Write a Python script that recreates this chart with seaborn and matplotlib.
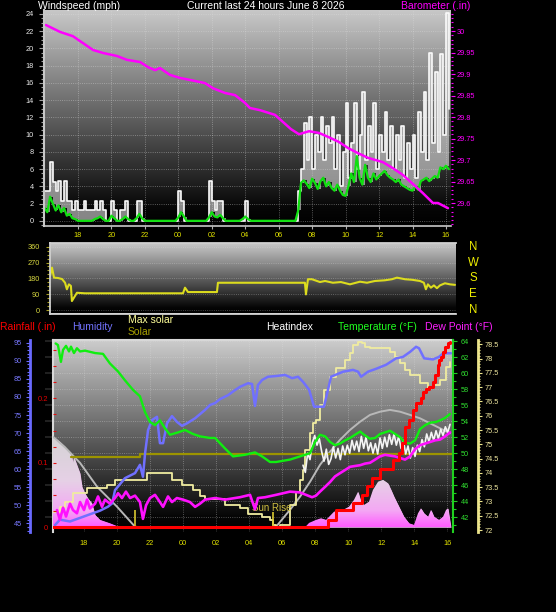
import numpy as np
import seaborn as sns
import matplotlib.pyplot as plt
from matplotlib.colors import LinearSegmentedColormap
from matplotlib.path import Path
from matplotlib.ticker import MultipleLocator, FixedLocator, FuncFormatter

W, H = 556, 612

# times are hours relative to midnight of June 8 (-8 = 16:00 the day before)
hour_ticks = [-6, -4, -2, 0, 2, 4, 6, 8, 10, 12, 14, 16]
hour_labels = ['18', '20', '22', '00', '02', '04', '06', '08', '10', '12', '14', '16']

# windspeed, 10 minute samples starting 16:00
wind_start = -8.0
gust = [3.5, 3.5, 6.8, 4.5, 3.5, 4.6, 2.3, 4.6, 2.3, 2.3,
        1.2, 2.3, 1.2, 1.2, 2.3, 1.2, 1.2, 1.2, 2.3, 1.2,
        2.3, 1.2, 0, 0, 2.3, 1.2, 0, 1.2, 1.2, 2.3,
        0, 0, 0, 2.3, 2.3, 0, 0, 0, 0, 0,
        0, 0, 0, 0, 0, 0, 0, 0, 3.5, 2.3,
        0, 0, 0, 0, 0, 0, 0, 0, 0, 4.6,
        2.3, 1.2, 2.3, 2.3, 0, 0, 0, 0, 0, 0,
        0, 0, 2.3, 0, 0, 0, 0, 0, 0, 0,
        0, 0, 0, 0, 0, 0, 0, 0, 0, 0,
        0, 3.5, 6.0, 11.3, 7.0, 12.0, 6.0, 10.0, 8.0, 12.0,
        7.0, 11.0, 9.0, 12.0, 6.0, 10.0, 4.0, 8.0, 13.7, 5.0,
        9.0, 13.7, 6.0, 10.0, 14.9, 7.0, 11.0, 8.0, 13.7, 6.0,
        10.0, 8.0, 12.6, 7.0, 11.0, 6.0, 10.0, 7.0, 11.0, 5.0,
        9.0, 6.0, 10.0, 5.0, 12.6, 8.0, 14.9, 7.0, 19.5, 9.0,
        17.3, 8.0, 19.4, 10.0, 24.1, 13.0]
avg = [1.5, 1.0, 2.8, 2.0, 1.2, 1.8, 1.0, 1.5, 0.6, 0.8,
       0.3, 0.2, 0, 0, 0, 0, 0, 0, 0.2, 0.3,
       0.5, 0.2, 0, 0, 0.6, 0.3, 0, 0, 0.2, 0.5,
       0.2, 0, 0, 0.3, 0.8, 0.3, 0, 0, 0, 0,
       0, 0, 0, 0, 0, 0, 0, 0, 0.4, 1.0,
       0.5, 0, 0, 0, 0, 0, 0, 0, 0, 0.4,
       1.0, 0.5, 0.4, 0.7, 0.3, 0, 0, 0, 0, 0,
       0, 0.2, 0.5, 0.2, 0, 0, 0, 0, 0, 0,
       0, 0, 0, 0, 0, 0, 0, 0, 0, 0,
       0, 1.2, 4.4, 4.7, 4.3, 3.8, 4.9, 4.4, 3.7, 4.6,
       5.0, 4.0, 4.5, 3.8, 3.5, 4.2, 3.5, 3.0, 2.9, 4.0,
       5.5, 4.5, 7.5, 5.0, 4.2, 6.5, 5.0, 4.5, 5.5, 4.8,
       5.2, 5.5, 5.8, 5.3, 5.0, 4.8, 4.5, 4.8, 4.2, 4.0,
       3.8, 3.6, 3.5, 4.0, 3.6, 4.6, 4.8, 5.0, 4.6, 4.9,
       5.2, 5.0, 6.2, 6.0, 6.4, 6.0]

baro_t = [-7.91, -7.07, -6.30, -5.70, -5.10, -4.50, -3.67, -3.07, -2.29, -1.81,
          -1.39, -1.10, -0.50, 0.10, 0.98, 1.59, 2.07, 2.79, 3.39, 3.98,
          4.28, 4.88, 5.78, 6.73, 7.21, 7.81, 8.41, 9.00, 9.60, 10.14,
          10.74, 11.34, 12.23, 12.83, 13.43, 14.03, 14.62, 15.22, 15.52, 16.12]
baro = [30.014, 29.998, 29.988, 29.972, 29.956, 29.949, 29.942, 29.933, 29.928, 29.916,
        29.909, 29.914, 29.898, 29.891, 29.884, 29.879, 29.867, 29.856, 29.851, 29.833,
        29.821, 29.816, 29.805, 29.772, 29.760, 29.767, 29.763, 29.753, 29.742, 29.728,
        29.716, 29.705, 29.695, 29.681, 29.665, 29.644, 29.623, 29.600, 29.600, 29.588]
baro_ticks = [29.6, 29.65, 29.7, 29.75, 29.8, 29.85, 29.9, 29.95, 30.0]

dir_t = [-7.67, -7.55, -7.43, -7.19, -6.95, -6.77, -6.66, -6.54, -6.42, -6.36,
         -6.24, -6.06, -5.58, 0.28, 0.40, 0.58, 2.31, 2.37, 6.50, 7.57,
         7.63, 7.75, 7.99, 8.47, 8.77, 9.24, 9.72, 10.26, 10.86, 11.28,
         11.75, 12.35, 12.77, 13.07, 13.55, 13.97, 14.45, 14.68, 14.80, 14.92,
         15.10, 15.28, 15.46, 15.64, 15.94, 16.24, 16.54]
direction = [193, 241, 184, 182, 176, 155, 118, 146, 137, 51,
             70, 98, 95, 95, 127, 102, 102, 155, 155, 155,
             89, 175, 175, 159, 165, 155, 159, 146, 161, 155,
             165, 169, 175, 184, 175, 172, 165, 155, 118, 146,
             127, 140, 124, 140, 152, 146, 143]
compass = ['N', 'W', 'S', 'E', 'N']
compass_deg = [360, 270, 180, 90, 0]

temp_t = [-7.72, -7.58, -7.40, -7.27, -7.09, -6.91, -6.79, -6.61, -6.43, -6.24,
          -5.94, -5.33, -4.85, -4.43, -3.94, -3.52, -3.03, -2.61, -2.30, -2.00,
          -1.70, -1.40, -1.09, -0.79, -0.30, 0.12, 0.60, 1.03, 1.64, 1.94,
          2.54, 3.03, 3.76, 4.36, 4.79, 5.27, 5.64, 6.48, 7.09, 7.70,
          8.00, 8.30, 8.61, 8.91, 9.21, 9.51, 9.82, 10.12, 10.42, 10.73,
          10.97, 11.33, 11.64, 11.94, 12.24, 12.54, 12.85, 13.15, 13.45, 13.76,
          14.06, 14.36, 14.67, 14.97, 15.33, 15.58, 15.88, 16.18]
temp = [63.7, 63.5, 61.4, 62.9, 63.4, 62.7, 63.3, 62.5, 63.1, 62.7,
        62.8, 62.5, 62.4, 61.2, 60.2, 59.1, 57.9, 57.1, 55.1, 53.9,
        53.5, 54.1, 53.1, 52.3, 52.6, 52.9, 52.4, 52.1, 51.9, 51.9,
        50.6, 49.6, 49.8, 50.1, 49.6, 48.9, 48.9, 49.2, 49.6, 50.0,
        51.4, 52.3, 52.1, 51.4, 51.0, 51.2, 51.6, 51.9, 52.3, 52.7,
        52.3, 51.8, 51.9, 52.4, 52.6, 52.8, 52.4, 52.0, 51.3, 51.2,
        51.6, 53.0, 53.5, 53.8, 53.9, 54.1, 54.4, 54.9]

dew_t = [-7.64, -7.46, -7.27, -7.09, -6.85, -6.67, -6.43, -6.24, -6.00, -5.82,
         -5.64, -5.33, -5.15, -4.91, -4.73, -4.43, -4.12, -3.94, -3.70, -3.46,
         -3.21, -2.91, -2.61, -2.43, -2.24, -2.00, -1.70, -1.40, -1.21, -0.91,
         -0.67, -0.37, 0.00, 0.42, 0.73, 1.03, 1.33, 1.94, 2.54, 3.45,
         4.06, 4.36, 4.54, 4.97, 5.64, 6.48, 7.09, 7.45, 7.82, 8.06,
         8.30, 8.61, 8.91, 9.21, 9.51, 9.82, 10.12, 10.42, 10.73, 11.03,
         11.33, 11.64, 11.94, 12.24, 12.54, 12.85, 13.15, 13.45, 13.76, 14.06,
         14.36, 14.67, 14.97, 15.27, 15.58, 15.88, 16.18]
dew = [42.9, 41.7, 43.2, 42.1, 43.7, 42.9, 42.5, 43.9, 42.9, 44.2,
       43.1, 43.7, 44.6, 43.3, 44.2, 43.7, 44.4, 45.0, 44.4, 45.2,
       44.4, 44.7, 43.9, 41.8, 43.5, 44.4, 44.8, 43.9, 43.3, 44.6,
       43.9, 44.4, 44.2, 43.9, 43.3, 43.7, 44.2, 44.4, 44.2, 44.5,
       44.8, 43.0, 44.4, 44.5, 44.8, 45.2, 45.1, 44.8, 44.5, 44.7,
       45.2, 45.8, 46.4, 47.1, 47.5, 47.9, 48.3, 48.4, 48.5, 48.7,
       48.8, 49.2, 49.6, 49.8, 49.7, 49.6, 49.4, 49.2, 49.6, 50.5,
       51.0, 51.2, 51.4, 51.6, 51.7, 52.1, 52.6]

# heat index from 07:16 to 16:11, evenly spaced samples
heat_span = (7.27, 16.18)
heat = [48.5, 47.6, 50.0, 49.2, 51.3, 52.2, 51.0, 51.8, 50.2, 49.0,
        50.5, 48.6, 49.3, 50.8, 49.4, 50.6, 49.2, 50.9, 49.8, 51.0,
        50.0, 51.6, 50.4, 51.5, 50.2, 52.1, 50.6, 52.0, 50.3, 51.3,
        50.0, 51.2, 49.9, 51.9, 50.6, 52.0, 50.8, 52.3, 51.1, 52.4,
        51.0, 52.1, 50.6, 51.6, 49.9, 50.9, 49.4, 50.7, 49.6, 51.0,
        50.2, 51.7, 50.8, 52.4, 51.4, 52.6, 51.6, 52.8, 51.8, 53.0,
        52.2, 53.3, 52.6, 53.6]

hum_t = [-7.76, -7.46, -6.85, -6.24, -5.64, -5.03, -4.55, -4.30, -4.12, -3.52,
         -2.91, -2.61, -2.43, -2.30, -2.12, -1.88, -1.58, -1.40, -1.21, -0.97,
         -0.67, -0.37, -0.06, 0.24, 0.73, 1.33, 1.64, 1.94, 2.24, 2.73,
         3.15, 3.45, 3.94, 4.18, 4.36, 4.54, 4.79, 5.15, 5.64, 6.18,
         6.61, 6.97, 7.27, 7.64, 7.94, 8.54, 8.97, 9.70, 10.30, 10.61,
         10.79, 11.21, 11.70, 12.30, 12.91, 13.33, 13.76, 14.12, 14.30, 14.61,
         15.15, 15.51, 15.76, 16.24]
hum = [44.5, 46.0, 45.5, 46.5, 47.5, 48.5, 49.6, 50.5, 54.2, 57.5,
       58.9, 61.2, 57.9, 64.4, 70.8, 73.6, 74.5, 67.2, 67.2, 72.7,
       74.7, 73.1, 72.0, 72.7, 74.1, 76.4, 77.8, 78.3, 79.4, 80.5,
       81.9, 82.8, 83.8, 83.6, 77.5, 83.3, 84.7, 85.6, 85.8, 86.1,
       85.2, 85.6, 84.2, 82.0, 77.3, 77.3, 85.6, 87.0, 87.5, 87.0,
       85.6, 87.0, 87.8, 88.9, 90.7, 91.1, 92.5, 93.9, 93.5, 90.7,
       90.4, 91.1, 92.1, 92.1]

rain_t = [-7.88, 8.79, 9.27, 10.30, 10.85, 11.15, 11.45, 11.94, 12.73, 13.09,
          13.27, 13.45, 13.70, 13.94, 14.12, 14.42, 14.54, 14.73, 14.91, 15.15,
          15.27, 15.45, 15.51, 15.64, 15.76, 15.88, 16.06, 16.18]
rain = [0, 0.011, 0.027, 0.038, 0.05, 0.064, 0.076, 0.09, 0.104, 0.115,
        0.13, 0.156, 0.166, 0.182, 0.192, 0.2, 0.21, 0.215, 0.218, 0.226,
        0.236, 0.252, 0.259, 0.264, 0.272, 0.28, 0.286, 0.288]

rad_t = [-7.88, -7.46, -7.15, -6.85, -6.73, -6.67, -6.61, -6.43, -6.24, -6.12,
         -5.94, -5.76, -5.52, -5.33, -5.03, -4.43, -3.82, 7.39, 7.64, 8.06,
         8.36, 8.67, 9.15, 9.70, 10.06, 10.36, 10.61, 10.79, 10.97, 11.27,
         11.51, 11.82, 12.12, 12.42, 12.61, 12.79, 13.09, 13.39, 13.70, 14.00,
         14.24, 14.42, 14.61, 14.85, 15.03, 15.21, 15.51, 15.76, 15.94, 16.06,
         16.24]
rad = [453, 428, 403, 370, 353, 322, 352, 312, 270, 203,
       170, 145, 120, 62, 37, 20, 0, 0, 22, 37,
       45, 37, 78, 87, 103, 137, 178, 128, 112, 128,
       187, 228, 237, 220, 187, 153, 103, 53, 20, 12,
       70, 95, 70, 53, 87, 53, 37, 53, 87, 95,
       0]

curve_t = [-7.88, -7.15, -6.24, -5.21, -4.00, -2.91, -2.60, 5.45, 5.64, 6.48,
           7.09, 7.70, 8.30, 8.91, 9.51, 10.12, 10.73, 11.33, 11.94, 12.54,
           13.15, 13.76, 14.36, 14.97, 15.58, 16.18]
curve = [453, 400, 322, 203, 103, 3, 0, 0, 3, 87,
         153, 228, 312, 378, 437, 487, 528, 562, 578, 587,
         578, 562, 545, 520, 495, 470]

maxsol_t = [-7.88, -7.46, -7.15, -6.67, -5.82, -4.61, -4.12, -2.18, -0.67, -0.06,
            0.60, 1.03, 1.33, 2.54, 3.45, 3.94, 4.79, 5.27, 5.45, 5.64,
            5.88, 6.48, 6.85, 7.09, 7.27, 7.39, 7.70, 7.88, 8.06, 8.30,
            8.54, 8.91, 9.27, 9.82, 10.12, 10.30, 10.61, 10.85, 11.03, 11.33,
            12.54, 12.85, 13.15, 13.45, 13.76, 14.36, 14.85, 15.15, 15.58, 15.94,
            16.18]
maxsol = [78, 103, 128, 170, 195, 212, 237, 270, 237, 212,
          187, 157, 140, 112, 95, 67, 50, 37, 12, 0,
          12, 112, 178, 237, 287, 387, 470, 520, 537, 612,
          687, 753, 795, 837, 870, 912, 928, 923, 903, 895,
          878, 853, 820, 787, 762, 720, 695, 712, 737, 803,
          828]

solar_t = [-6.79, -2.61, 16.36]
solar = [353, 368, 365]

sun_t = [-2.91, 5.45]
sun_h = [87, 78]


def box(l, t, r, b):
    return [l / W, 1 - b / H, (r - l) / W, (b - t) / H]


def backdrop(ax, top):
    cmap = LinearSegmentedColormap.from_list('bg', [(0, '#000000'), (0.08, '#060606'), (1, top)])
    ax.imshow(np.linspace(0, 1, 256).reshape(-1, 1), extent=[0, 1, 0, 1],
              transform=ax.transAxes, origin='lower', aspect='auto', cmap=cmap, zorder=-10)


def hide_spines(ax, keep=()):
    for name, sp in ax.spines.items():
        sp.set_visible(name in keep)


fmt = FuncFormatter(lambda v, p: f'{v:g}')

sns.set_theme(style='ticks')
plt.rcParams['font.family'] = ['Liberation Sans', 'DejaVu Sans']

fig = plt.figure(figsize=(W / 100, H / 100), dpi=100, facecolor='black')

# ---------------- wind + barometer ----------------
ax1 = fig.add_axes(box(44, 10, 451, 226))
backdrop(ax1, '#c8c8c8')
t_wind = wind_start + np.arange(len(gust)) / 6
ax1.fill_between(t_wind, avg, gust, step='post', color='#e0e0e0', alpha=0.6, lw=0)
sns.lineplot(x=t_wind, y=gust, ax=ax1, color='#fafafa', lw=1.2, drawstyle='steps-post', estimator=None)
sns.lineplot(x=t_wind, y=avg, ax=ax1, color='#10e010', lw=1.6, estimator=None)
ax1.set_xlim(-8.03, 16.30)
ax1.set_ylim(-0.6, 24.46)
ax1.xaxis.set_major_locator(FixedLocator(hour_ticks))
ax1.set_xticklabels(hour_labels)
ax1.yaxis.set_major_locator(MultipleLocator(2))
ax1.yaxis.set_minor_locator(MultipleLocator(0.5))
ax1.grid(True, color='#e0e0e0', ls=':', lw=0.6, alpha=0.5)
ax1.tick_params(axis='y', which='both', left=True, colors='#a0a0a0', labelcolor='#e8e8e8',
                labelsize=5.3, length=3.5, width=0.8, pad=4)
ax1.tick_params(axis='y', which='minor', length=2)
ax1.tick_params(axis='x', bottom=True, colors='#b0b0b0', labelcolor='#e0e000',
                labelsize=5.3, length=2, width=0.8, pad=2.5)
hide_spines(ax1, ('left', 'bottom'))
ax1.spines['left'].set_color('#c8c8c8')
ax1.spines['left'].set_linewidth(1.5)
ax1.spines['bottom'].set_color('#c8c8c8')
ax1.spines['bottom'].set_linewidth(1.2)

axb = ax1.twinx()
sns.lineplot(x=baro_t, y=baro, ax=axb, color='#ff00ff', lw=1.8)
axb.set_ylim(29.5465, 30.049)
axb.yaxis.set_major_locator(FixedLocator(baro_ticks))
axb.yaxis.set_minor_locator(MultipleLocator(0.01))
axb.yaxis.set_major_formatter(fmt)
axb.tick_params(axis='y', which='both', right=True, colors='#ff00ff', labelsize=5.3,
                length=3, width=0.8, pad=1)
axb.tick_params(axis='y', which='minor', length=1.5)
axb.set_ylabel('')
hide_spines(axb)

# ---------------- wind direction ----------------
ax2 = fig.add_axes(box(50, 243, 456, 313.5))
backdrop(ax2, '#cccccc')
sns.lineplot(x=dir_t, y=direction, ax=ax2, color='#dcdc1e', lw=1.5)
ax2.set_xlim(-7.67, 16.6)
ax2.set_ylim(-19.9, 381)
ax2.set_xticks([])
ax2.yaxis.set_major_locator(FixedLocator([0, 90, 180, 270, 360]))
ax2.yaxis.set_minor_locator(MultipleLocator(22.5))
ax2.grid(True, axis='y', color='#e0e0e0', ls=':', lw=0.6, alpha=0.4)
ax2.tick_params(axis='y', which='both', left=True, colors='#a8a020', labelcolor='#d8d840',
                labelsize=5.3, length=3, width=0.8, pad=4.3)
ax2.tick_params(axis='y', which='minor', length=2)
hide_spines(ax2, ('left', 'top', 'bottom'))
for side in ('left', 'top', 'bottom'):
    ax2.spines[side].set_color('#d0d0d0')
    ax2.spines[side].set_linewidth(1.3)
for lab, deg in zip(compass, compass_deg):
    ax2.text(1.042, deg, lab, transform=ax2.get_yaxis_transform(), ha='center', va='center',
             color='#f0f000', fontsize=8.3)

# ---------------- temperature / humidity / rain / solar ----------------
ax3 = fig.add_axes(box(53, 340, 453, 532))
backdrop(ax3, '#cccccc')
ax3.set_xlim(-7.88, 16.36)
ax3.set_ylim(40.16, 64.13)
ax3.xaxis.set_major_locator(FixedLocator(hour_ticks))
ax3.set_xticklabels(hour_labels)
ax3.yaxis.set_major_locator(MultipleLocator(2))
ax3.grid(True, color='#e0e0e0', ls=':', lw=0.6, alpha=0.45)
ax3.tick_params(axis='y', left=False, labelleft=False)
ax3.tick_params(axis='x', bottom=True, length=0, labelcolor='#e0e000', labelsize=5.3, pad=5.5)
hide_spines(ax3, ('left', 'top'))
for side in ('left', 'top'):
    ax3.spines[side].set_color('#d8d8d8')
    ax3.spines[side].set_linewidth(1.5)

axs = ax3.twinx()
hide_spines(axs)
axs.set_yticks([])
poly = axs.fill_between(rad_t, 0, rad, color='#f0b8f0', lw=0, zorder=1)
pink = LinearSegmentedColormap.from_list(
    'pink', [(0, '#ff5cff'), (0.18, '#f4a8f4'), (0.5, '#e6d0e6'), (1, '#d4d4d4')])
im = axs.imshow(np.linspace(0, 1, 256).reshape(-1, 1), extent=[-8, 16.5, 0, 460], origin='lower',
                aspect='auto', cmap=pink, zorder=1)
im.set_clip_path(Path.make_compound_path(*poly.get_paths()), transform=axs.transData)
sns.lineplot(x=curve_t, y=curve, ax=axs, color='#b8b8b8', lw=1.4)
sns.lineplot(x=solar_t, y=solar, ax=axs, color='#9c9400', lw=1.6, drawstyle='steps-post')
sns.lineplot(x=maxsol_t, y=maxsol, ax=axs, color='#f0eca0', lw=1.3, drawstyle='steps-post')
axs.vlines(sun_t, 0, sun_h, color='#d8c830', lw=1.2)
axs.text(4.18, 98, 'Sun Rise', color='#d0c040', fontsize=7, va='center')
axs.set_xlim(-7.88, 16.36)
axs.set_ylim(-23.5, 936.5)
axs.set_ylabel('')

axh = ax3.twinx()
sns.lineplot(x=hum_t, y=hum, ax=axh, color='#7070ff', lw=1.8)
axh.set_ylim(42.59, 95.78)
hide_spines(axh, ('left',))
axh.spines['left'].set_position(('axes', -23 / 400))
axh.spines['left'].set_color('#6a6aff')
axh.spines['left'].set_linewidth(2)
axh.yaxis.tick_left()
axh.yaxis.set_major_locator(MultipleLocator(5))
axh.yaxis.set_minor_locator(MultipleLocator(1))
axh.tick_params(axis='y', which='both', colors='#6a6aff', labelcolor='#7878ff',
                labelsize=5.3, length=3, width=0.8, pad=3)
axh.tick_params(axis='y', which='minor', length=2)
axh.set_ylabel('')

axt = ax3.twinx()
sns.lineplot(x=np.linspace(*heat_span, len(heat)), y=heat, ax=axt, color='#f4f4f4', lw=1.2)
sns.lineplot(x=temp_t, y=temp, ax=axt, color='#10ee10', lw=1.7)
sns.lineplot(x=dew_t, y=dew, ax=axt, color='#ff10ff', lw=1.9)
axt.set_ylim(40.16, 64.13)
hide_spines(axt, ('right',))
axt.spines['right'].set_color('#20d020')
axt.spines['right'].set_linewidth(1.5)
axt.yaxis.set_major_locator(MultipleLocator(2))
axt.yaxis.set_minor_locator(MultipleLocator(1))
axt.tick_params(axis='y', which='both', right=True, colors='#20d020', labelcolor='#30e030',
                labelsize=5.3, length=3, width=0.8, pad=2.8)
axt.tick_params(axis='y', which='minor', length=2)
axt.set_ylabel('')

axr = ax3.twinx()
sns.lineplot(x=rain_t, y=rain, ax=axr, color='#ff0000', lw=2.2, drawstyle='steps-post')
axr.set_ylim(-0.0073, 0.2904)
hide_spines(axr)
axr.yaxis.tick_left()
axr.yaxis.set_major_locator(FixedLocator([0, 0.1, 0.2]))
axr.yaxis.set_minor_locator(MultipleLocator(0.025))
axr.yaxis.set_major_formatter(fmt)
axr.tick_params(axis='y', which='both', colors='#e01010', labelcolor='#e00000',
                labelsize=5.5, direction='in', length=2.5, width=0.8, pad=3.4)
axr.set_ylabel('')

axi = ax3.twinx()
axi.set_ylim(71.93, 78.65)
hide_spines(axi, ('right',))
axi.spines['right'].set_position(('axes', 425 / 400))
axi.spines['right'].set_color('#ece48c')
axi.spines['right'].set_linewidth(2)
axi.yaxis.set_major_locator(MultipleLocator(0.5))
axi.yaxis.set_minor_locator(MultipleLocator(0.1))
axi.yaxis.set_major_formatter(fmt)
axi.tick_params(axis='y', which='both', right=True, colors='#ece48c', labelcolor='#f0e8a0',
                labelsize=5.3, length=3, width=0.8, pad=1.6)
axi.tick_params(axis='y', which='minor', length=1.5)

# ---------------- titles and legend texts ----------------
def label(x, y, s, color, va='center'):
    fig.text(x / W, 1 - y / H, s, color=color, fontsize=7.5, ha='left', va=va)


label(37.7, 8.7, 'Windspeed (mph)', 'white', va='baseline')
label(187, 8.7, 'Current last 24 hours June 8 2026', 'white', va='baseline')
label(401, 8.7, 'Barometer (.in)', '#ff00ff', va='baseline')
label(0, 326.7, 'Rainfall (.in)', '#ff0000')
label(71.7, 326.7, 'Humidity', '#7373ff')
label(128, 320, 'Max solar', '#ffff99')
label(128, 332.3, 'Solar', '#a8a000')
label(265.7, 326.7, 'Heatindex', 'white')
label(337.7, 326.7, 'Temperature (°F)', '#20ff20')
label(425, 326.7, 'Dew Point (°F)', '#ff20ff')

fig.savefig('out.png', dpi=100, facecolor='black')
